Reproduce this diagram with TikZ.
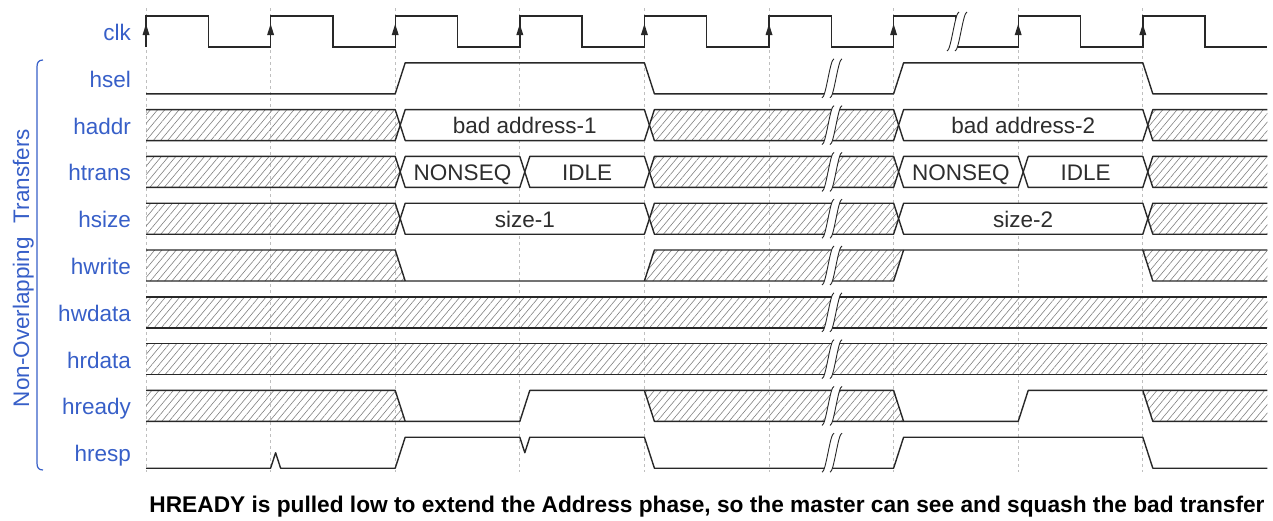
\documentclass[tikz,border=0pt]{standalone}
\usepackage{fontspec}
\setmainfont{Liberation Sans}
\usetikzlibrary{patterns.meta}
\definecolor{lblblue}{RGB}{55,95,200}
\definecolor{sigc}{RGB}{40,40,40}
\definecolor{txtc}{RGB}{45,45,45}
\newcommand\Xhatch[2]{%
  \fill[hatchfill] ({#1+10},16) -- (#2,16) -- ({#2+5},31.5) -- (#2,47) -- ({#1+10},47) -- ({#1+5},31.5) -- cycle;
  \draw[sig] ({#1+5},31.5) -- ({#1+10},16) -- (#2,16) -- ({#2+5},31.5) -- (#2,47) -- ({#1+10},47) -- cycle;}
\newcommand\Xhatchstart[1]{%
  \fill[hatchfill] (146,16) -- (#1,16) -- ({#1+5},31.5) -- (#1,47) -- (146,47) -- cycle;
  \draw[sig] (146,16) -- (#1,16) -- ({#1+5},31.5) -- (#1,47) -- (146,47);}
\newcommand\Xhatchend[1]{%
  \fill[hatchfill] (1267.4,16) -- ({#1+10},16) -- ({#1+5},31.5) -- ({#1+10},47) -- (1267.4,47) -- cycle;
  \draw[sig] (1267.4,16) -- ({#1+10},16) -- ({#1+5},31.5) -- ({#1+10},47) -- (1267.4,47);}
\newcommand\Xdata[4]{%
  \draw[sig,fill=white] ({#2+5},31.5) -- ({#2+10},16) -- (#3,16) -- ({#3+5},31.5) -- (#3,47) -- ({#2+10},47) -- cycle;
  \node[bustext] (#1) at ({(#2+#3)/2+5},39.8) {#4};}
\newcommand\tbreak[1]{%
  \fill[white] ({#1-10},51) .. controls ({#1-6},51) and ({#1-2},12) .. ({#1+2},12) -- ({#1+10},12) .. controls ({#1+6},12) and ({#1+2},51) .. ({#1-2},51) -- cycle;
  \draw[brkln] ({#1-10},51) .. controls ({#1-6},51) and ({#1-2},12) .. ({#1+2},12);
  \draw[brkln] ({#1-2},51) .. controls ({#1+2},51) and ({#1+6},12) .. ({#1+10},12);}
\begin{document}
\begin{tikzpicture}[x=1pt,y=-1pt,
  sig/.style={draw=sigc,line width=1.4pt,line join=round},
  hatchfill/.style={pattern={Lines[angle=50,distance=5.5pt,line width=0.6pt]},pattern color=black!50},
  lbl/.style={anchor=base east,text=lblblue,font=\fontsize{22.5}{27}\selectfont,inner sep=0pt},
  bustext/.style={anchor=base,text=txtc,font=\fontsize{22.5}{27}\selectfont,inner sep=0pt},
  gridln/.style={draw=black!25,line width=0.8pt,dash pattern=on 3pt off 3pt},
  brkln/.style={draw=sigc,line width=0.9pt},
  captionstyle/.style={anchor=base,text=black,font=\fontsize{22.7}{27}\selectfont\bfseries,inner sep=0pt}]
\useasboundingbox (0,0) rectangle (1273,520);
% grid
\foreach \r in {146,270.6,395.2,519.8,644.4,769,893.6,1018.2,1142.8}
  \draw[gridln] (\r,8) -- (\r,472);
% side label and bracket
\node[rotate=90,anchor=base,text=lblblue,font=\fontsize{22.5}{27}\selectfont,inner sep=0pt] (vlab) at (29,268) {Non-Overlapping\hspace{0.35em} Transfers};
\draw[lblblue,line width=1.2pt] (43,60) .. controls (38.5,60) and (37,62.5) .. (37,67) -- (37,463) .. controls (37,467.5) and (38.5,470) .. (43,470);
% clk
\begin{scope}
\node[lbl] (lclk) at (131,40.5) {clk};
\draw[sig,line join=miter] (146,47)
  \foreach \r in {146,270.6,395.2,519.8,644.4,769,893.6,1018.2,1142.8} { -- (\r,47) -- (\r,16) -- ({\r+62.3},16) -- ({\r+62.3},47) } -- (1267.4,47);
\foreach \r in {146,270.6,395.2,519.8,644.4,769,893.6,1018.2,1142.8}
  \fill[sigc] ({\r-3.5},35) -- (\r,24) -- ({\r+3.5},35) -- cycle;
\tbreak{957}
\end{scope}
% hsel
\begin{scope}[shift={(0,46.8)}]
\node[lbl] (lhsel) at (131,40.5) {hsel};
\draw[sig] (146,47) -- (395.2,47) -- (405.2,16) -- (644.4,16) -- (654.4,47) -- (893.6,47) -- (903.6,16) -- (1142.8,16) -- (1152.8,47) -- (1267.4,47);
\tbreak{832}
\end{scope}
% haddr
\begin{scope}[shift={(0,93.6)}]
\node[lbl] (lhaddr) at (131,40.5) {haddr};
\Xhatchstart{395.2}
\Xdata{a1}{395.2}{644.4}{bad address-1}
\Xhatch{644.4}{893.6}
\Xdata{a2}{893.6}{1142.8}{bad address-2}
\Xhatchend{1142.8}
\tbreak{832}
\end{scope}
% htrans
\begin{scope}[shift={(0,140.4)}]
\node[lbl] (lhtrans) at (131,40.5) {htrans};
\Xhatchstart{395.2}
\Xdata{t1}{395.2}{519.8}{NONSEQ}
\Xdata{t2}{519.8}{644.4}{IDLE}
\Xhatch{644.4}{893.6}
\Xdata{t3}{893.6}{1018.2}{NONSEQ}
\Xdata{t4}{1018.2}{1142.8}{IDLE}
\Xhatchend{1142.8}
\tbreak{832}
\end{scope}
% hsize
\begin{scope}[shift={(0,187.2)}]
\node[lbl] (lhsize) at (131,40.5) {hsize};
\Xhatchstart{395.2}
\Xdata{s1}{395.2}{644.4}{size-1}
\Xhatch{644.4}{893.6}
\Xdata{s2}{893.6}{1142.8}{size-2}
\Xhatchend{1142.8}
\tbreak{832}
\end{scope}
% hwrite
\begin{scope}[shift={(0,234)}]
\node[lbl] (lhwrite) at (131,40.5) {hwrite};
\fill[hatchfill] (146,16) -- (395.2,16) -- (405.2,47) -- (146,47) -- cycle;
\fill[hatchfill] (644.4,47) -- (654.4,16) -- (903.6,16) -- (893.6,47) -- cycle;
\fill[hatchfill] (1142.8,16) -- (1267.4,16) -- (1267.4,47) -- (1152.8,47) -- cycle;
\draw[sig] (146,16) -- (395.2,16) -- (405.2,47);
\draw[sig] (146,47) -- (893.6,47) -- (903.6,16);
\draw[sig] (644.4,47) -- (654.4,16) -- (1267.4,16);
\draw[sig] (1142.8,16) -- (1152.8,47) -- (1267.4,47);
\tbreak{832}
\end{scope}
% hwdata
\begin{scope}[shift={(0,280.8)}]
\node[lbl] (lhwdata) at (131,40.5) {hwdata};
\fill[hatchfill] (146,16) rectangle (1267.4,47);
\draw[sig] (146,16) -- (1267.4,16);
\draw[sig] (146,47) -- (1267.4,47);
\tbreak{832}
\end{scope}
% hrdata
\begin{scope}[shift={(0,327.6)}]
\node[lbl] (lhrdata) at (131,40.5) {hrdata};
\fill[hatchfill] (146,16) rectangle (1267.4,47);
\draw[sig] (146,16) -- (1267.4,16);
\draw[sig] (146,47) -- (1267.4,47);
\tbreak{832}
\end{scope}
% hready
\begin{scope}[shift={(0,374.4)}]
\node[lbl] (lhready) at (131,40.5) {hready};
\fill[hatchfill] (146,16) -- (395.2,16) -- (405.2,47) -- (146,47) -- cycle;
\fill[hatchfill] (644.4,16) -- (893.6,16) -- (903.6,47) -- (654.4,47) -- cycle;
\fill[hatchfill] (1142.8,16) -- (1267.4,16) -- (1267.4,47) -- (1152.8,47) -- cycle;
\draw[sig] (146,16) -- (395.2,16) -- (405.2,47);
\draw[sig] (146,47) -- (519.8,47) -- (529.8,16) -- (893.6,16) -- (903.6,47) -- (1018.2,47) -- (1028.2,16) -- (1267.4,16);
\draw[sig] (644.4,16) -- (654.4,47) -- (903.6,47);
\draw[sig] (1142.8,16) -- (1152.8,47) -- (1267.4,47);
\tbreak{832}
\end{scope}
% hresp
\begin{scope}[shift={(0,421.2)}]
\node[lbl] (lhresp) at (131,40.5) {hresp};
\draw[sig] (146,47) -- (270.6,47) -- (275.6,31.5) -- (280.6,47) -- (395.2,47) -- (405.2,16) -- (519.8,16) -- (524.8,31.5) -- (529.8,16) -- (644.4,16) -- (654.4,47) -- (893.6,47) -- (903.6,16) -- (1142.8,16) -- (1152.8,47) -- (1267.4,47);
\tbreak{832}
\end{scope}
% caption
\node[captionstyle] (cap) at (707,512) {HREADY is pulled low to extend the Address phase, so the master can see and squash the bad transfer};
\end{tikzpicture}
\end{document}
